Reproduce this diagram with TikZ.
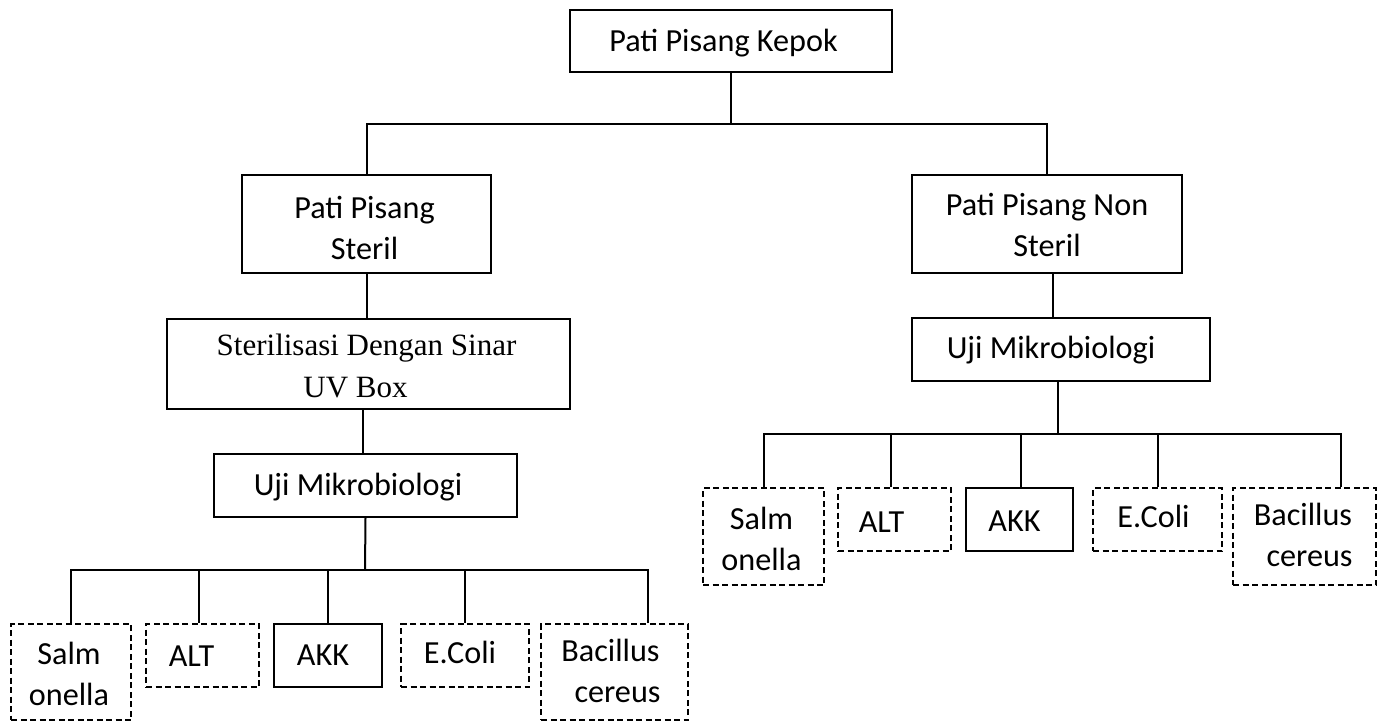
\documentclass[tikz,border=0pt]{standalone}
\usepackage{fontspec}
\newfontfamily\carlito{Carlito}
\newfontfamily\libser{Liberation Serif}
\begin{document}
\begin{tikzpicture}[x=1pt,y=-1pt,
  box/.style={draw, line width=2pt, inner sep=0pt},
  dbox/.style={box, dash pattern=on 6pt off 3.5pt},
  lbl/.style={anchor=base, align=center, inner sep=0pt, font=\carlito\fontsize{32.2}{41}\selectfont},
  slbl/.style={lbl, font=\libser\fontsize{31}{42}\selectfont},
  wire/.style={line width=2pt}]
\useasboundingbox[fill=white] (0,0) rectangle (1379,722);

% boxes
\node[box, minimum width=322pt, minimum height=62pt] (k) at (731,41) {};
\node[box, minimum width=249pt, minimum height=98pt] (s) at (366.5,224) {};
\node[box, minimum width=270pt, minimum height=98pt] (ns) at (1047,224) {};
\node[box, minimum width=403pt, minimum height=90pt] (uv) at (368.5,364) {};
\node[box, minimum width=303pt, minimum height=63pt] (u1) at (365.5,485.5) {};
\node[box, minimum width=298pt, minimum height=63pt] (u2) at (1061,349.5) {};

\node[dbox, minimum width=120pt, minimum height=96pt] (sa1) at (71,672) {};
\node[dbox, minimum width=113pt, minimum height=63pt] (al1) at (202.5,655.5) {};
\node[box,  minimum width=108pt, minimum height=63pt] (ak1) at (328,655.5) {};
\node[dbox, minimum width=128pt, minimum height=63pt] (ec1) at (465,655.5) {};
\node[dbox, minimum width=147pt, minimum height=96pt] (ba1) at (614.5,672) {};

\node[dbox, minimum width=121pt, minimum height=97pt] (sa2) at (763.5,536.5) {};
\node[dbox, minimum width=113pt, minimum height=63pt] (al2) at (894.5,519.5) {};
\node[box,  minimum width=107pt, minimum height=63pt] (ak2) at (1019.5,519.5) {};
\node[dbox, minimum width=129pt, minimum height=63pt] (ec2) at (1157.5,519.5) {};
\node[dbox, minimum width=143pt, minimum height=97pt] (ba2) at (1304.5,536.5) {};

% texts (base anchor = baseline of the last line)
\node[lbl] (kt) at (723.5,52) {Pati Pisang Kepok};
\node[lbl] (st) at (364.5,259) {Pati Pisang\\Steril};
\node[lbl] (nst) at (1047,257) {Pati Pisang Non\\Steril};
\node[slbl] (uvt) at (366.5,397) {Sterilisasi Dengan Sinar\\UV Box\hspace*{22pt}};
\node[lbl] (u1t) at (358,495) {Uji Mikrobiologi};
\node[lbl] (u2t) at (1051,358) {Uji Mikrobiologi};

\node[lbl] (sa1t) at (69,705) {Salm\\onella};
\node[lbl] (al1t) at (191.5,666) {ALT};
\node[lbl] (ak1t) at (323,665) {AKK};
\node[lbl] (ec1t) at (460,663) {E.Coli};
\node[lbl] (ba1t) at (610.5,702) {Bacillus\\\hspace*{14pt}cereus};

\node[lbl] (sa2t) at (761.5,570) {Salm\\onella};
\node[lbl] (al2t) at (881.5,532) {ALT};
\node[lbl] (ak2t) at (1014.5,531) {AKK};
\node[lbl] (ec2t) at (1153.5,527) {E.Coli};
\node[lbl] (ba2t) at (1303,566) {Bacillus\\\hspace*{13pt}cereus};

% connectors
\coordinate (top) at (731,124);
\draw[wire] (k.south) -- (top);
\draw[wire] (s.north) |- (top) -| (ns.north);
\draw[wire] (s.south) -- (s.south |- uv.north);
\draw[wire] ([xshift=-2.5pt]u1.north) -- ([xshift=-2.5pt]u1.north |- uv.south);

\coordinate (bus1) at (365,570);
\draw[wire] (u1.south) -- (bus1);
\draw[wire] (sa1.north) |- (bus1);
\draw[wire] ([xshift=-3.5pt]al1.north) |- (bus1);
\draw[wire] (ak1.north) |- (bus1);
\draw[wire] (ec1.north) |- (bus1);
\draw[wire] ([xshift=33.5pt]ba1.north) |- (bus1);

\draw[wire] ([xshift=6pt]ns.south) -- ([xshift=6pt]ns.south |- u2.north);
\coordinate (bus2) at (1058,434);
\draw[wire] ([xshift=-3pt]u2.south) -- (bus2);
\draw[wire] (sa2.north) |- (bus2);
\draw[wire] ([xshift=-3.5pt]al2.north) |- (bus2);
\draw[wire] ([xshift=1.5pt]ak2.north) |- (bus2);
\draw[wire] (ec2.north) |- (bus2);
\draw[wire] ([xshift=36.5pt]ba2.north) |- (bus2);
\end{tikzpicture}
\end{document}
